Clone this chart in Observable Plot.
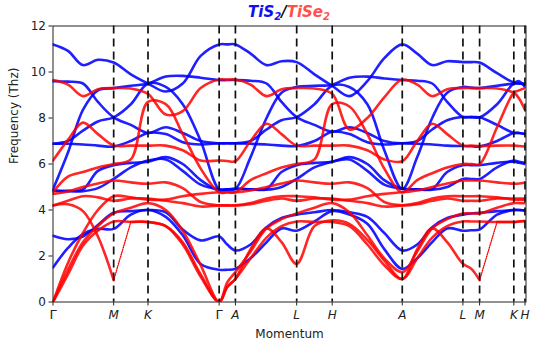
<!DOCTYPE html>
<html><head><meta charset="utf-8">
<script src="https://cdn.jsdelivr.net/npm/d3@7"></script>
<script src="https://cdn.jsdelivr.net/npm/@observablehq/plot@0.6"></script>
<style>
body{margin:0;background:#fff;overflow:hidden;}
#wrap{position:relative;width:548px;height:345px;}
#title{position:absolute;top:3px;left:189px;width:200px;text-align:center;font-family:"DejaVu Sans",sans-serif;font-size:15px;font-weight:bold;font-style:italic;line-height:18px;}
#title sub{font-size:10px;vertical-align:-3px;line-height:0;}
</style></head><body>
<div id="wrap"><div id="title"><span style="color:#1010ee">TiS<sub>2</sub></span><span style="color:#111">/</span><span style="color:#ff4f4f">TiSe<sub>2</sub></span></div></div>
<script>
// path coordinate of every sampled k-point
const kx = [0, 15, 30, 45, 60.8, 78, 95.2, 113, 130, 148, 166.5, 174.6, 182.8, 198, 214, 229, 244.2, 262, 279.8, 297, 315, 332, 350, 365, 380, 395, 410.8, 419, 427.5, 445, 461.8, 467, 473];
// high-symmetry points
const kPos = [0, 60.8, 95.2, 166.5, 182.8, 244.2, 279.8, 350, 410.8, 427.5, 461.8, 473];
const kLabels = ["Γ", "M", "K", "Γ", "A", "L", "H", "A", "L", "M", "K", "H"];
const yTicks = [0, 2, 4, 6, 8, 10, 12];

// TiS2 bands (THz)
const s9 = [11.2, 10.92, 10.3, 10.53, 10.41, 9.9, 9.5, 9.15, 9.5, 10.7, 11.2, 11.2, 11.2, 10.8, 10.3, 10.47, 10.43, 9.9, 9.4, 8.95, 9.6, 10.6, 11.2, 10.8, 10.3, 10.47, 10.43, 10.43, 10.41, 9.95, 9.55, 9.6, 9.35];
const s8 = [4.9, 6.5, 8.35, 9.2, 9.3, 9.4, 9.5, 9.8, 9.83, 9.75, 9.65, 9.65, 9.65, 9.62, 9.5, 8.7, 8.04, 7.7, 7.4, 7.6, 7.35, 7.0, 6.9, 7.0, 7.5, 7.9, 8.04, 8.04, 8.03, 8.6, 9.5, 9.5, 9.45];
const s7 = [9.6, 9.58, 9.5, 8.7, 8.03, 7.7, 7.35, 7.6, 7.35, 7.0, 6.9, 6.9, 6.9, 7.0, 7.5, 7.9, 8.04, 8.6, 9.4, 9.35, 8.6, 6.6, 4.92, 6.3, 8.0, 9.1, 9.35, 9.32, 9.3, 9.4, 9.5, 9.5, 9.5];
const s6 = [6.88, 7.0, 7.45, 7.85, 8.03, 8.6, 9.5, 9.35, 8.6, 7.0, 4.9, 4.9, 4.92, 6.3, 8.0, 9.1, 9.35, 9.4, 9.45, 9.75, 9.8, 9.72, 9.65, 9.62, 9.5, 8.7, 8.04, 8.04, 8.03, 7.7, 7.35, 7.35, 7.3];
const s5 = [6.88, 6.88, 6.85, 6.8, 6.76, 7.0, 7.35, 7.3, 6.95, 6.85, 6.9, 6.9, 6.9, 6.88, 6.85, 6.8, 6.78, 7.0, 7.4, 7.3, 6.95, 6.85, 6.9, 6.88, 6.85, 6.8, 6.78, 6.77, 6.76, 7.0, 7.35, 7.35, 7.3];
const s4 = [4.85, 4.82, 4.82, 4.95, 5.35, 5.85, 6.15, 6.2, 5.7, 5.1, 4.9, 4.9, 4.92, 4.9, 4.88, 5.0, 5.35, 5.85, 6.1, 6.2, 5.7, 5.1, 4.92, 4.9, 4.88, 5.0, 5.35, 5.35, 5.35, 5.85, 6.15, 6.1, 6.05];
const s3 = [4.85, 4.83, 4.9, 5.7, 5.95, 6.05, 6.1, 6.3, 6.0, 5.3, 4.85, 4.88, 4.92, 4.9, 4.92, 5.65, 5.95, 6.05, 6.1, 6.3, 6.0, 5.3, 4.92, 4.9, 4.92, 5.65, 5.95, 5.95, 5.95, 6.05, 6.1, 6.05, 6.0];
const s2 = [2.88, 2.73, 2.85, 3.35, 3.88, 3.95, 4.0, 3.9, 3.15, 2.68, 2.85, 2.5, 2.24, 2.5, 3.25, 3.65, 3.8, 3.9, 4.0, 3.9, 3.7, 3.0, 2.24, 2.5, 3.25, 3.65, 3.8, 3.85, 3.88, 3.95, 4.0, 4.0, 3.98];
const s1 = [1.5, 2.35, 2.95, 3.18, 3.18, 3.8, 4.0, 3.7, 2.9, 1.65, 1.4, 1.4, 1.44, 1.9, 2.6, 3.2, 3.1, 3.5, 3.95, 3.8, 3.4, 2.3, 1.44, 1.9, 2.6, 3.2, 3.1, 3.12, 3.15, 3.8, 4.0, 4.0, 3.98];

// TiSe2 bands (THz)
const e9 = [9.65, 9.45, 8.95, 9.25, 9.3, 9.28, 9.05, 8.15, 8.3, 9.3, 9.67, 9.67, 9.67, 9.45, 8.95, 9.25, 9.3, 9.28, 9.05, 7.5, 8.0, 8.9, 9.67, 9.45, 8.95, 9.25, 9.3, 9.3, 9.3, 9.28, 9.1, 8.85, 8.35];
const e8 = [6.15, 7.05, 7.8, 7.3, 6.81, 6.8, 6.8, 6.8, 6.6, 6.15, 6.15, 6.13, 6.12, 7.0, 7.75, 7.3, 6.8, 6.8, 6.8, 6.8, 6.6, 6.2, 6.12, 7.0, 7.75, 7.3, 6.8, 6.8, 6.78, 6.8, 6.8, 6.78, 6.76];
const e7 = [4.77, 5.45, 5.65, 5.85, 6.0, 6.2, 8.7, 8.6, 7.3, 5.8, 4.77, 4.77, 4.77, 5.3, 5.6, 5.85, 6.0, 6.2, 8.6, 8.5, 7.3, 5.8, 4.77, 5.3, 5.6, 5.85, 6.0, 6.0, 6.0, 7.6, 9.1, 9.2, 9.3];
const e6 = [4.7, 4.8, 5.0, 5.15, 5.28, 5.2, 5.14, 5.2, 4.95, 4.35, 4.2, 4.2, 4.2, 4.25, 4.4, 4.5, 4.4, 4.5, 4.5, 4.4, 4.3, 4.15, 4.2, 4.3, 4.5, 4.6, 4.6, 4.6, 4.6, 4.55, 4.45, 4.45, 4.45];
const e5 = [4.2, 4.4, 4.6, 4.55, 4.4, 4.5, 4.5, 4.4, 4.3, 4.15, 4.2, 4.2, 4.2, 4.3, 4.5, 4.6, 4.6, 4.55, 4.45, 4.45, 4.6, 4.7, 4.77, 4.85, 5.0, 5.15, 5.28, 5.28, 5.28, 5.2, 5.14, 5.15, 5.2];
const e4 = [4.2, 4.25, 3.95, 2.85, 0.95, 3.48, 3.48, 3.3, 2.6, 1.2, 0, 0.65, 1.0, 2.3, 3.2, 2.6, 1.66, 3.3, 3.55, 3.4, 2.7, 1.8, 1.0, 2.3, 3.2, 2.6, 1.66, 1.45, 0.95, 3.48, 3.48, 3.5, 3.52];
const e3 = [0, 1.4, 2.6, 3.3, 3.85, 4.1, 4.3, 4.0, 3.1, 1.6, 0, 0.85, 1.3, 2.2, 3.2, 3.6, 3.85, 4.1, 4.3, 3.9, 2.9, 1.9, 1.3, 2.2, 3.2, 3.6, 3.85, 3.85, 3.85, 4.1, 4.3, 4.3, 4.3];
const e2 = [0, 1.2, 2.45, 3.1, 3.5, 3.48, 3.48, 3.3, 2.5, 1.1, 0, 0.65, 1.0, 1.9, 2.8, 3.3, 3.5, 3.48, 3.48, 3.3, 2.5, 1.6, 1.0, 1.9, 2.8, 3.3, 3.5, 3.5, 3.5, 3.48, 3.48, 3.5, 3.52];
const e1 = [0, 1.7, 3.0, 4.0, 4.6, 4.55, 4.45, 4.45, 4.6, 4.7, 4.77, 4.77, 4.77, 4.85, 5.0, 5.15, 5.28, 5.2, 5.14, 5.2, 4.95, 4.35, 4.2, 4.25, 4.4, 4.5, 4.4, 4.4, 4.4, 4.5, 4.5, 4.5, 4.5];

const tis2Bands = {s1, s2, s3, s4, s5, s6, s7, s8, s9};
const tise2Bands = {e1, e2, e3, e4, e5, e6, e7, e8, e9};
// sparse (dotted) stretches of the soft TiSe2 branch: [from index, to index]
const sparse = {e4: [[4, 5], [28, 29]]};

function toRows(bands, mat) {
  const out = [];
  for (const [name, vals] of Object.entries(bands)) {
    const spans = sparse[name] || [];
    const breaks = new Set(spans.flat());
    let p = 0, dotted = false;
    for (let i = 0; i < vals.length; i++) {
      if (i > 0 && breaks.has(i)) {
        out.push({x: kx[i], y: vals[i], id: name + "-" + p, mat, dotted});
        p++;
        dotted = spans.some(s => s[0] === i);
      }
      out.push({x: kx[i], y: vals[i], id: name + "-" + p, mat, dotted});
    }
  }
  return out;
}
const rowsS = toRows(tis2Bands, "TiS2");
const rowsE = toRows(tise2Bands, "TiSe2");

const plot = Plot.plot({
  width: 548, height: 345,
  marginLeft: 52.5, marginRight: 22.5, marginTop: 25.5, marginBottom: 43.5,
  style: {fontFamily: "DejaVu Sans, sans-serif", fontSize: "12px", color: "#222", background: "white"},
  x: {domain: [0, 474]},
  y: {domain: [0, 12]},
  marks: [
    Plot.line(rowsS, {x: "x", y: "y", z: "id", stroke: "#0000ff", strokeWidth: 2.6, strokeOpacity: 0.88, curve: "catmull-rom", clip: true}),
    Plot.line(rowsE.filter(d => !d.dotted), {x: "x", y: "y", z: "id", stroke: "#ff0000", strokeWidth: 2.6, strokeOpacity: 0.85, curve: "catmull-rom", clip: true}),
    Plot.line(rowsE.filter(d => d.dotted), {x: "x", y: "y", z: "id", stroke: "#ff0000", strokeWidth: 1.3, strokeDasharray: "1.2,1.2", clip: true}),
    Plot.ruleX(kPos.slice(1), {x: d => d, stroke: "#111", strokeWidth: 1.7, strokeDasharray: "8,5"}),
    Plot.frame({stroke: "#222", strokeWidth: 1}),
    Plot.axisY({ticks: yTicks, tickSize: 4, tickPadding: 3, label: null, fontSize: 12}),
    Plot.axisX({ticks: kPos, tickSize: 4, tickFormat: () => "", label: null}),
    Plot.text(kPos.filter((d, i) => kLabels[i] === "Γ"), {x: d => d, frameAnchor: "bottom", dy: 17, text: () => "Γ", fontSize: 13, fill: "#222"}),
    Plot.text(kPos.filter((d, i) => kLabels[i] !== "Γ"), {x: d => d, frameAnchor: "bottom", dy: 17, text: d => kLabels[kPos.indexOf(d)], fontSize: 12, fontStyle: "italic", fill: "#222"}),
    Plot.text(["Momentum"], {frameAnchor: "bottom", dy: 36, text: d => d, fontSize: 12, fill: "#222"}),
    Plot.text(["Frequency (Thz)"], {frameAnchor: "left", dx: -39, rotate: -90, text: d => d, fontSize: 12, fill: "#222"})
  ]
});
document.getElementById("wrap").prepend(plot);
</script>
</body></html>
